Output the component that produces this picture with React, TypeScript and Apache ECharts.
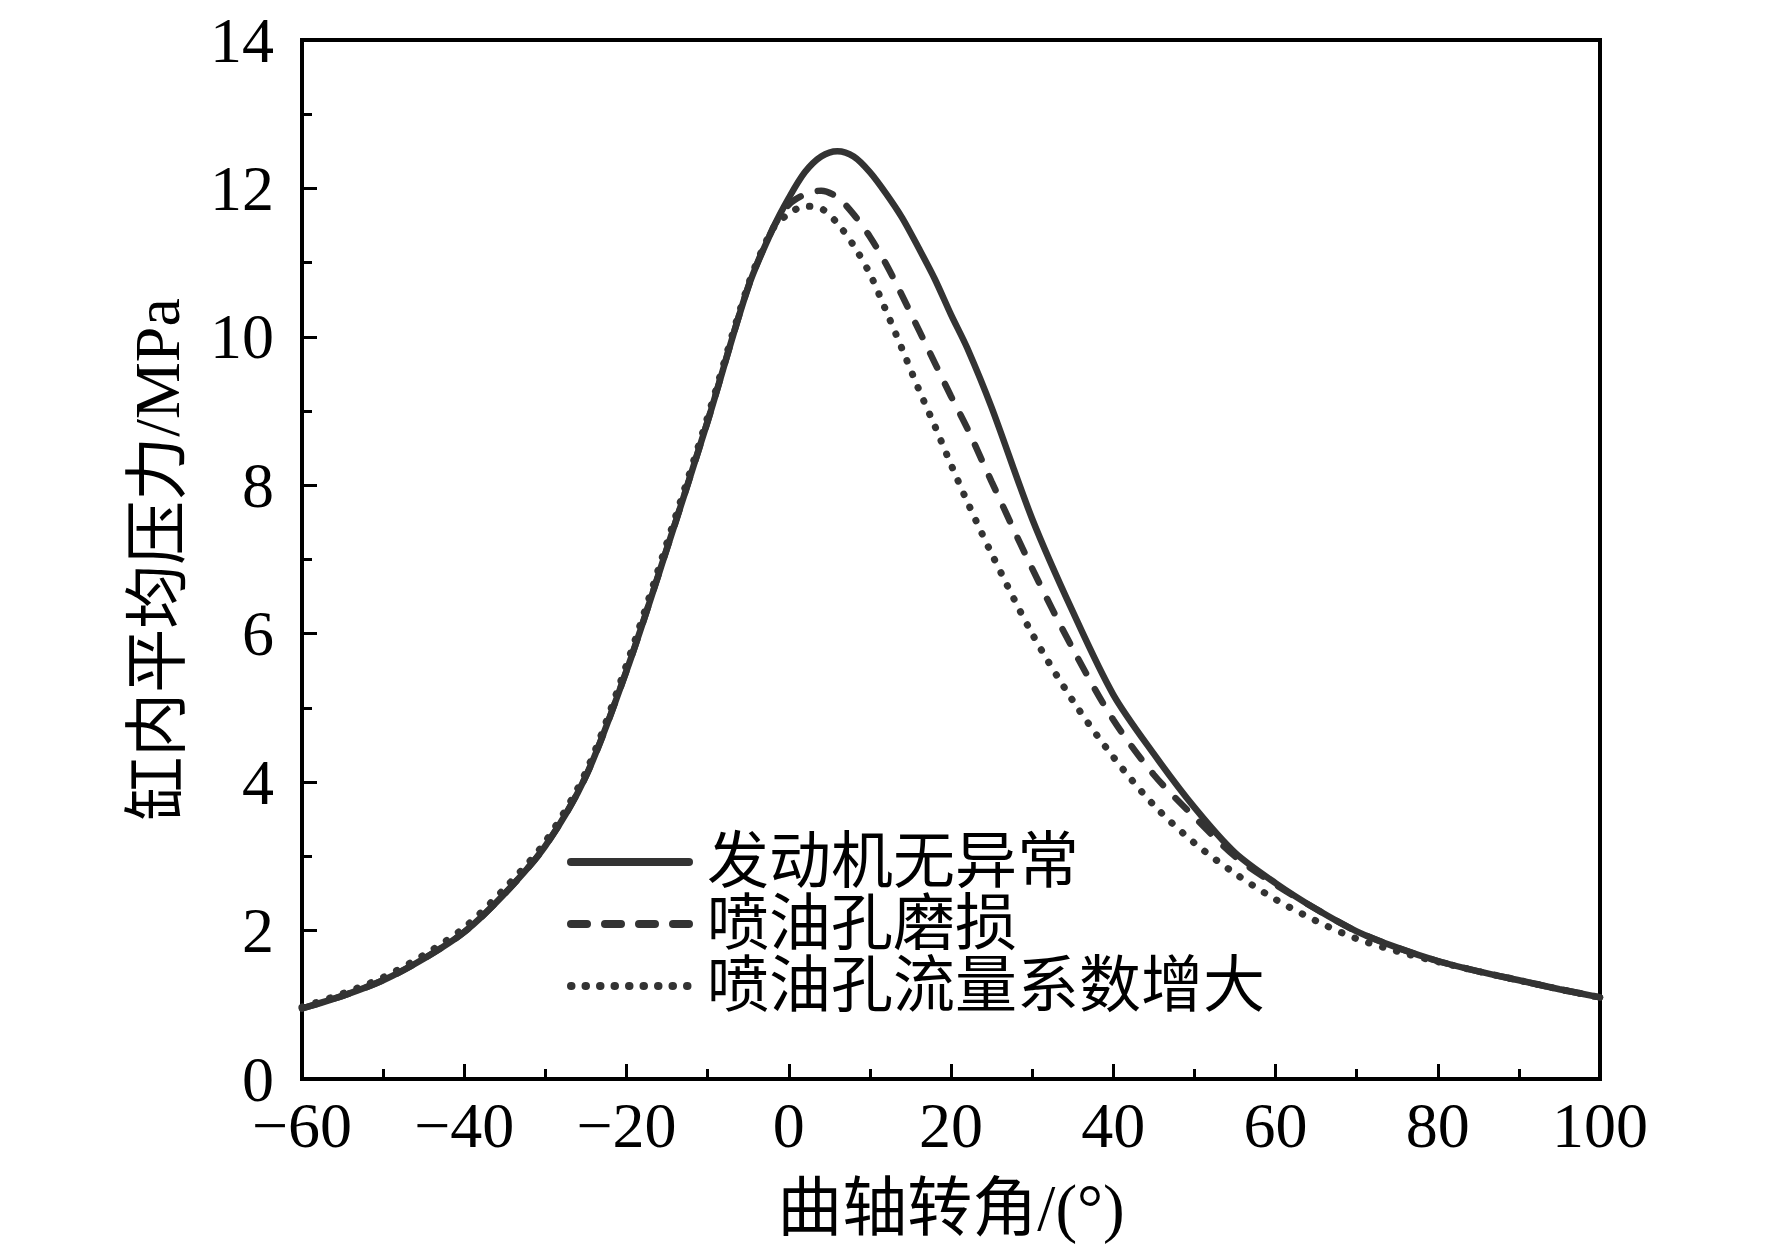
import React, { useEffect, useRef } from "react";
import * as echarts from "echarts";

const angles = [-60, -55, -50, -45, -40, -35, -30, -25, -20, -15, -10, -5, -2, 0, 2, 4, 6, 8, 10, 12, 14, 16, 18, 20, 22, 25, 30, 35, 40, 45, 50, 55, 60, 65, 70, 75, 80, 85, 90, 95, 100];

const normal = [0.95, 1.12, 1.33, 1.62, 1.98, 2.5, 3.14, 4.08, 5.5, 7.15, 8.86, 10.67, 11.45, 11.87, 12.22, 12.43, 12.5, 12.43, 12.22, 11.93, 11.6, 11.2, 10.78, 10.3, 9.85, 9.05, 7.55, 6.3, 5.18, 4.38, 3.66, 3.05, 2.64, 2.29, 1.99, 1.77, 1.59, 1.45, 1.33, 1.21, 1.1];

const worn = [0.95, 1.12, 1.33, 1.62, 1.98, 2.5, 3.14, 4.08, 5.5, 7.15, 8.86, 10.67, 11.45, 11.78, 11.92, 11.97, 11.88, 11.65, 11.35, 10.98, 10.55, 10.1, 9.65, 9.2, 8.77, 8.05, 6.88, 5.8, 4.84, 4.1, 3.53, 3.0, 2.62, 2.29, 1.99, 1.77, 1.59, 1.45, 1.33, 1.21, 1.1];

const flowUp = [0.97, 1.15, 1.37, 1.67, 2.04, 2.57, 3.2, 4.14, 5.58, 7.23, 8.92, 10.7, 11.45, 11.66, 11.76, 11.73, 11.53, 11.23, 10.85, 10.35, 9.83, 9.3, 8.8, 8.28, 7.78, 7.08, 6.0, 5.1, 4.34, 3.69, 3.18, 2.77, 2.42, 2.13, 1.89, 1.72, 1.58, 1.45, 1.33, 1.21, 1.1];

const seriesNames = ["发动机无异常", "喷油孔磨损", "喷油孔流量系数增大"];

const xTicks = { min: -60, max: 100, interval: 20 };
const yTicks = { min: 0, max: 14, interval: 2 };

const FONT = "'Liberation Serif', 'Noto Sans CJK SC', serif";

export default function App() {
  const ref = useRef<HTMLDivElement>(null);

  useEffect(() => {
    if (!ref.current) return;
    const chart = echarts.init(ref.current, null, { renderer: "svg" });
    const pair = (vals: number[]) => angles.map((a, i) => [a, vals[i]]);
    const lineColor = "#333333";

    chart.setOption({
      animation: false,
      backgroundColor: "#ffffff",
      grid: {
        left: 302,
        top: 40,
        right: 172,
        bottom: 172,
        show: true,
        borderColor: "#000",
        borderWidth: 4,
        backgroundColor: "transparent",
      },
      legend: {
        orient: "vertical",
        left: 567,
        top: 831,
        padding: 0,
        itemWidth: 118,
        itemHeight: 20,
        itemGap: 0,
        data: seriesNames,
        itemStyle: { opacity: 0, borderWidth: 0 },
        lineStyle: { width: 8, color: lineColor },
        textStyle: {
          fontSize: 62,
          lineHeight: 62,
          color: "#000",
          fontFamily: FONT,
          padding: [0, 0, 0, 13],
        },
      },
      xAxis: {
        type: "value",
        min: xTicks.min,
        max: xTicks.max,
        interval: xTicks.interval,
        name: "曲轴转角/(°)",
        nameLocation: "middle",
        nameGap: 96,
        nameTextStyle: { fontSize: 65, color: "#000", fontFamily: FONT },
        axisLine: { show: true, onZero: false, lineStyle: { color: "#000", width: 4 } },
        axisTick: { show: true, inside: true, length: 15, lineStyle: { color: "#000", width: 3 } },
        minorTick: { show: true, splitNumber: 2, length: 10, lineStyle: { color: "#000", width: 3 } },
        splitLine: { show: false },
        axisLabel: {
          fontSize: 64,
          lineHeight: 50,
          color: "#000",
          fontFamily: FONT,
          margin: 21,
          formatter: (v: number) => String(v).replace("-", "\u2212"),
        },
      },
      yAxis: {
        type: "value",
        min: yTicks.min,
        max: yTicks.max,
        interval: yTicks.interval,
        name: "缸内平均压力/MPa",
        nameLocation: "middle",
        nameRotate: 90,
        nameGap: 113,
        nameTextStyle: { fontSize: 64, color: "#000", fontFamily: FONT },
        axisLine: { show: true, onZero: false, lineStyle: { color: "#000", width: 4 } },
        axisTick: { show: true, inside: true, length: 15, lineStyle: { color: "#000", width: 3 } },
        minorTick: { show: true, splitNumber: 2, length: 10, lineStyle: { color: "#000", width: 3 } },
        splitLine: { show: false },
        axisLabel: { fontSize: 64, lineHeight: 50, color: "#000", fontFamily: FONT, margin: 28 },
      },
      series: [
        {
          name: seriesNames[0],
          type: "line",
          data: pair(normal),
          smooth: 0.3,
          symbol: "none",
          showSymbol: false,
          lineStyle: { color: lineColor, width: 6.5, type: "solid", cap: "round" },
          itemStyle: { color: lineColor },
        },
        {
          name: seriesNames[1],
          type: "line",
          data: pair(worn),
          smooth: 0.3,
          symbol: "none",
          showSymbol: false,
          lineStyle: { color: lineColor, width: 6.5, type: [16, 18], cap: "round" },
          itemStyle: { color: lineColor },
        },
        {
          name: seriesNames[2],
          type: "line",
          data: pair(flowUp),
          smooth: 0.3,
          symbol: "none",
          showSymbol: false,
          lineStyle: { color: lineColor, width: 7, type: [0.5, 14], cap: "round" },
          itemStyle: { color: lineColor },
        },
      ],
    });
    return () => chart.dispose();
  }, []);

  return (
    <div
      ref={ref}
      style={{ position: "absolute", left: 0, top: 0, width: 1772, height: 1251 }}
    />
  );
}
